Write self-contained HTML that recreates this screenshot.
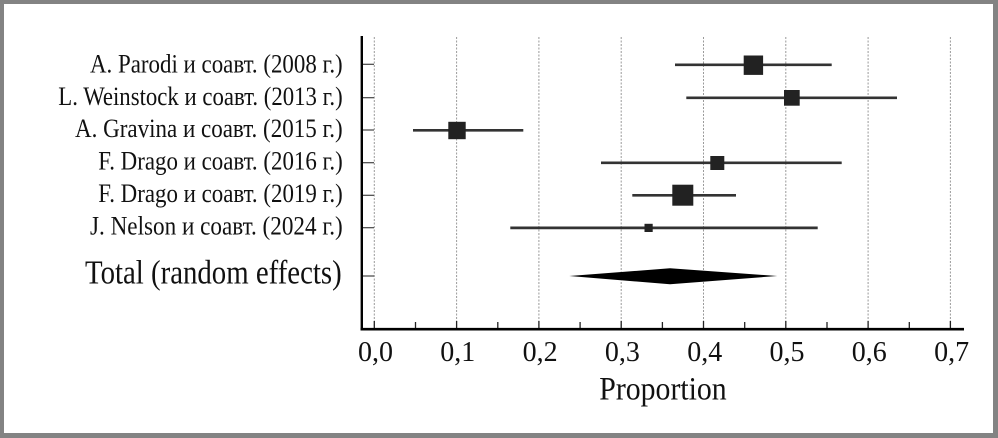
<!DOCTYPE html>
<html>
<head>
<meta charset="utf-8">
<style>
  html,body{margin:0;padding:0;background:#fff;}
  body{width:998px;height:438px;overflow:hidden;}
  svg{display:block;}
  text{font-family:"Liberation Serif","Noto Serif CJK SC",serif;fill:#111;}
</style>
</head>
<body>
<svg width="998" height="438" viewBox="0 0 998 438" xmlns="http://www.w3.org/2000/svg">
  <!-- frame -->
  <rect x="0" y="0" width="998" height="438" fill="#838383"/>
  <rect x="4" y="4" width="989" height="429" fill="#fff"/>

  <!-- gridlines -->
  <g stroke="#9a9a9a" stroke-width="1" stroke-dasharray="2,1.5">
    <line x1="374.3" y1="37" x2="374.3" y2="328"/>
    <line x1="456.6" y1="37" x2="456.6" y2="328"/>
    <line x1="538.9" y1="37" x2="538.9" y2="328"/>
    <line x1="621.2" y1="37" x2="621.2" y2="328"/>
    <line x1="703.5" y1="37" x2="703.5" y2="328"/>
    <line x1="785.8" y1="37" x2="785.8" y2="328"/>
    <line x1="868.1" y1="37" x2="868.1" y2="328"/>
    <line x1="950.4" y1="37" x2="950.4" y2="328"/>
  </g>

  <!-- y ticks -->
  <g stroke="#444" stroke-width="1.2">
    <line x1="362" y1="64.3" x2="374" y2="64.3"/>
    <line x1="362" y1="97.7" x2="374" y2="97.7"/>
    <line x1="362" y1="130" x2="374" y2="130"/>
    <line x1="362" y1="162.7" x2="374" y2="162.7"/>
    <line x1="362" y1="195.3" x2="374" y2="195.3"/>
    <line x1="362" y1="227.7" x2="374" y2="227.7"/>
    <line x1="362" y1="276" x2="374" y2="276"/>
  </g>

  <!-- x ticks -->
  <g stroke="#222" stroke-width="1.3">
    <line x1="374.3" y1="321" x2="374.3" y2="329"/>
    <line x1="415.5" y1="322" x2="415.5" y2="329"/>
    <line x1="456.6" y1="321" x2="456.6" y2="329"/>
    <line x1="497.8" y1="322" x2="497.8" y2="329"/>
    <line x1="538.9" y1="321" x2="538.9" y2="329"/>
    <line x1="580.1" y1="322" x2="580.1" y2="329"/>
    <line x1="621.2" y1="321" x2="621.2" y2="329"/>
    <line x1="662.4" y1="322" x2="662.4" y2="329"/>
    <line x1="703.5" y1="321" x2="703.5" y2="329"/>
    <line x1="744.7" y1="322" x2="744.7" y2="329"/>
    <line x1="785.8" y1="321" x2="785.8" y2="329"/>
    <line x1="827" y1="322" x2="827" y2="329"/>
    <line x1="868.1" y1="321" x2="868.1" y2="329"/>
    <line x1="909.3" y1="322" x2="909.3" y2="329"/>
    <line x1="950.4" y1="321" x2="950.4" y2="329"/>
  </g>

  <!-- axes -->
  <line x1="361.8" y1="36" x2="361.8" y2="330.5" stroke="#000" stroke-width="2.4"/>
  <line x1="360.6" y1="329.2" x2="964" y2="329.2" stroke="#000" stroke-width="2.6"/>

  <!-- error bars -->
  <g stroke="#333" stroke-width="2.7">
    <line x1="675" y1="64.8" x2="831.7" y2="64.8"/>
    <line x1="686.3" y1="97.8" x2="897" y2="97.8"/>
    <line x1="413" y1="130.3" x2="523.3" y2="130.3"/>
    <line x1="601" y1="162.8" x2="841.7" y2="162.8"/>
    <line x1="632.3" y1="195.3" x2="736" y2="195.3"/>
    <line x1="510.3" y1="227.9" x2="817.7" y2="227.9"/>
  </g>

  <!-- squares -->
  <g fill="#222">
    <rect x="743.7" y="55.5" width="19.4" height="19.4"/>
    <rect x="784" y="90" width="15.7" height="15.7"/>
    <rect x="448.3" y="121.8" width="17.4" height="17.4"/>
    <rect x="710.3" y="156" width="14" height="14"/>
    <rect x="672.3" y="184.7" width="21" height="21"/>
    <rect x="644.5" y="223.8" width="8.2" height="8.2"/>
  </g>

  <!-- diamond -->
  <polygon points="569.3,276 670,268.3 777.3,276 670,284.3" fill="#000"/>

  <!-- row labels -->
  <g font-size="26">
    <text x="90" y="72.3" textLength="252.7" lengthAdjust="spacingAndGlyphs">A. Parodi и соавт. (2008 г.)</text>
    <text x="58.3" y="104.8" textLength="284.4" lengthAdjust="spacingAndGlyphs">L. Weinstock и соавт. (2013 г.)</text>
    <text x="75" y="137.2" textLength="267.7" lengthAdjust="spacingAndGlyphs">A. Gravina и соавт. (2015 г.)</text>
    <text x="98.3" y="169.7" textLength="244.4" lengthAdjust="spacingAndGlyphs">F. Drago и соавт. (2016 г.)</text>
    <text x="98.3" y="202.2" textLength="244.4" lengthAdjust="spacingAndGlyphs">F. Drago и соавт. (2019 г.)</text>
    <text x="90" y="234.6" textLength="252.7" lengthAdjust="spacingAndGlyphs">J. Nelson и соавт. (2024 г.)</text>
  </g>
  <text x="85" y="283.3" font-size="34" textLength="256.7" lengthAdjust="spacingAndGlyphs">Total (random effects)</text>

  <!-- x tick labels -->
  <g font-size="28" text-anchor="middle">
    <text x="375.5" y="361">0,0</text>
    <text x="457.8" y="361">0,1</text>
    <text x="540.1" y="361">0,2</text>
    <text x="622.4" y="361">0,3</text>
    <text x="704.7" y="361">0,4</text>
    <text x="787" y="361">0,5</text>
    <text x="869.3" y="361">0,6</text>
    <text x="951.6" y="361">0,7</text>
  </g>

  <text x="599.3" y="399.3" font-size="33" textLength="127.4" lengthAdjust="spacingAndGlyphs">Proportion</text>
</svg>
</body>
</html>
